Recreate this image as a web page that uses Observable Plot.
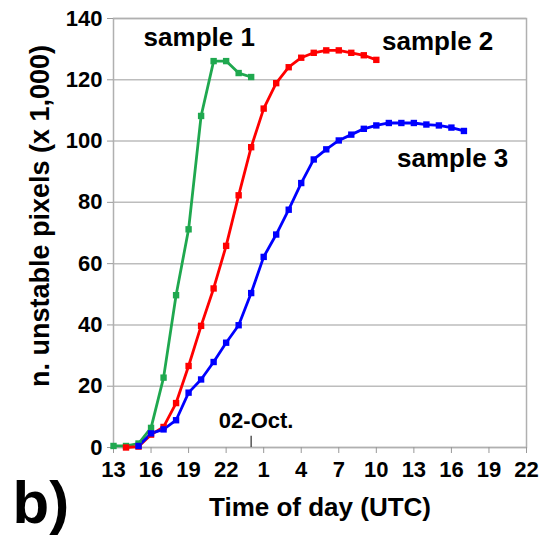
<!DOCTYPE html>
<html>
<head>
<meta charset="utf-8">
<script src="https://cdn.jsdelivr.net/npm/d3@7"></script>
<script src="https://cdn.jsdelivr.net/npm/@observablehq/plot@0.6"></script>
<style>
  html, body { margin: 0; padding: 0; background: #fff; }
  #chart svg { display: block; }
</style>
</head>
<body>
<div id="chart"></div>
<script>
// hours since 13:00 UTC on 1 Oct
const series = ["sample 1", "sample 2", "sample 3"];
const colors = ["#1fa84f", "#ff0000", "#0000ff"];

const hours1 = [0, 1, 2, 3, 4, 5, 6, 7, 8, 9, 10, 11];
const values1 = [0.5, 0.5, 1.3, 6.4, 22.8, 49.7, 71.2, 108.2, 126.1, 126.1, 122.2, 120.9];

const hours2 = [1, 2, 3, 4, 5, 6, 7, 8, 9, 10, 11, 12, 13, 14, 15, 16, 17, 18, 19, 20, 21];
const values2 = [0, 0.3, 4.2, 6.7, 14.5, 26.6, 39.7, 51.9, 65.8, 82.3, 98.0, 110.6, 118.9, 124.1, 127.2, 128.8, 129.6, 129.6, 128.8, 128.0, 126.5];

const hours3 = [2, 3, 4, 5, 6, 7, 8, 9, 10, 11, 12, 13, 14, 15, 16, 17, 18, 19, 20, 21, 22, 23, 24, 25, 26, 27, 28];
const values3 = [0.5, 4.6, 5.9, 8.9, 17.9, 22.2, 27.9, 34.2, 39.9, 50.4, 62.2, 69.5, 77.6, 86.3, 94.0, 97.3, 100.2, 102.1, 104.0, 105.1, 105.9, 105.9, 105.9, 105.4, 105.1, 104.4, 103.3];

const xTicks = [0, 3, 6, 9, 12, 15, 18, 21, 24, 27, 30, 33];
const xTickLabels = ["13", "16", "19", "22", "1", "4", "7", "10", "13", "16", "19", "22"];
const yTicks = [0, 20, 40, 60, 80, 100, 120, 140];

// label anchors (hour, value)
const labelHours = [6.85, 25.9, 27.1];
const labelValues = [131, 129.6, 91.5];

const dayMarkHour = 11;
const dayMarkLabel = "02-Oct.";

const rows = [];
[[hours1, values1], [hours2, values2], [hours3, values3]].forEach(([h, v], i) => {
  h.forEach((t, j) => rows.push({series: series[i], t, v: v[j]}));
});
const labels = series.map((s, i) => ({series: s, t: labelHours[i], v: labelValues[i]}));

const font = "Liberation Sans, Arial, sans-serif";

const chart = Plot.plot({
  width: 550,
  height: 537,
  marginLeft: 113,
  marginRight: 24,
  marginTop: 18,
  marginBottom: 90,
  style: {fontFamily: font, fontWeight: "bold", color: "black", background: "white"},
  x: {domain: [0, 33], axis: null},
  y: {domain: [0, 140], axis: null},
  color: {domain: series, range: colors},
  marks: [
    Plot.gridY(yTicks, {stroke: "#bdbdbd", strokeOpacity: 1, strokeWidth: 1.5}),
    Plot.frame({stroke: "#b0b0b0", strokeWidth: 1.5}),
    Plot.axisY({ticks: yTicks, tickSize: 6, tickPadding: 5, stroke: "#999", fill: "black",
      fontSize: 22, fontWeight: "bold", label: null}),
    Plot.axisX({ticks: xTicks, tickFormat: (d) => xTickLabels[xTicks.indexOf(d)], tickSize: 6, tickPadding: 8,
      stroke: "#999", fill: "black", fontSize: 22, fontWeight: "bold", label: null}),
    Plot.ruleX([dayMarkHour], {y1: 0, y2: 3.7, stroke: "#555", strokeWidth: 1.5}),
    Plot.text([dayMarkLabel], {x: dayMarkHour, y: 6.3, dx: 5, lineAnchor: "bottom", textAnchor: "middle",
      fontSize: 22, fontWeight: "bold", fill: "black"}),
    Plot.line(rows, {x: "t", y: "v", z: "series", stroke: "series", strokeWidth: 2.8}),
    Plot.dot(rows, {x: "t", y: "v", fill: "series", symbol: "square", r: 3.6}),
    Plot.text(labels, {x: "t", y: "v", text: "series", lineAnchor: "bottom", textAnchor: "middle",
      fontSize: 26, fontWeight: "bold", fill: "black"}),
    Plot.text(["n. unstable pixels (x 1,000)"], {frameAnchor: "left", rotate: -90, dx: -65, dy: -17,
      lineAnchor: "bottom", textAnchor: "middle", fontSize: 27, fontWeight: "bold", fill: "black"}),
    Plot.text(["Time of day (UTC)"], {frameAnchor: "bottom", dy: 68, lineAnchor: "bottom", textAnchor: "middle",
      fontSize: 26, fontWeight: "bold", fill: "black"}),
    Plot.text(["b)"], {frameAnchor: "bottom-left", dx: -101, dy: 75, lineAnchor: "bottom", textAnchor: "start",
      fontSize: 60, fontWeight: "bold", fill: "black"})
  ]
});
document.getElementById("chart").appendChild(chart);
</script>
</body>
</html>
